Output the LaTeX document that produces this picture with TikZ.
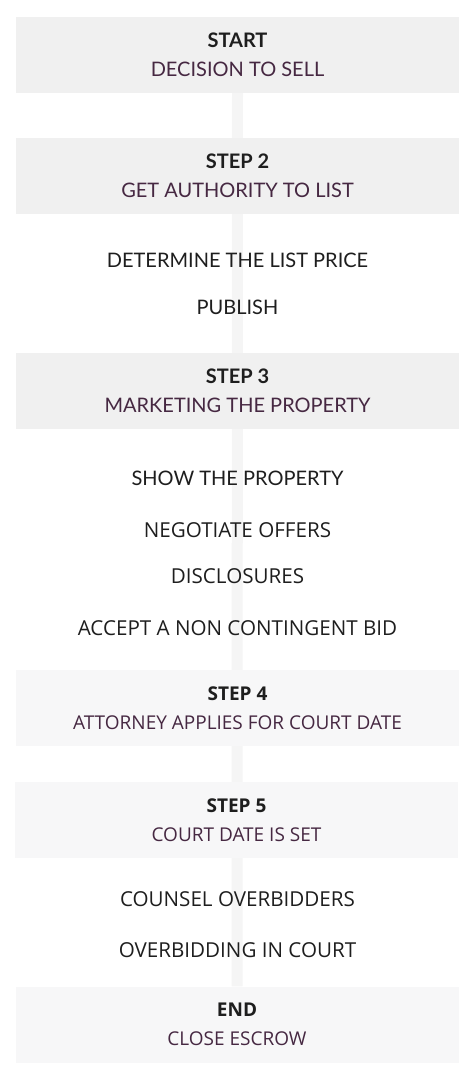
\documentclass[tikz,border=0pt]{standalone}
\usepackage{fontspec}
\setmainfont{Lato}
\newfontfamily\opensans{Open Sans}
\usetikzlibrary{backgrounds}
\definecolor{boxgray}{RGB}{240, 240, 240}
\definecolor{boxlight}{RGB}{247, 247, 248}
\definecolor{linegray}{RGB}{245, 245, 245}
\definecolor{darktext}{RGB}{30, 30, 30}
\definecolor{plum}{RGB}{70, 40, 66}

\tikzset{
    stepbox/.style={fill=boxgray, minimum width=443pt, minimum height=76pt, inner sep=0pt, align=center, text=darktext, font=\fontsize{20}{29}\selectfont},
    lowbox/.style={stepbox, fill=boxlight, font=\opensans\fontsize{19}{29}\selectfont},
    item/.style={anchor=base, text=darktext, font=\fontsize{20}{29}\selectfont},
    lowitem/.style={item, font=\opensans\fontsize{20.6}{29}\selectfont},
}

\begin{document}
\begin{tikzpicture}[x=1pt, y=-1pt]
    \useasboundingbox (0,0) rectangle (474,1080);
    \node[stepbox] (start) at (237.5,55) {{\bfseries START}\\{\color{plum}DECISION TO SELL}};
    \node[stepbox] (step2) at (237.5,175.5) {{\bfseries STEP 2}\\{\color{plum}GET AUTHORITY TO LIST}};
    \node[item] (price) at (237.5,267) {DETERMINE THE LIST PRICE};
    \node[item] (publish) at (237.5,314) {PUBLISH};
    \node[stepbox] (step3) at (237.5,391) {{\bfseries STEP 3}\\{\color{plum}MARKETING THE PROPERTY}};
    \node[item] (show) at (237.5,485) {SHOW THE PROPERTY};
    \node[lowitem] (offers) at (237.5,537) {NEGOTIATE OFFERS};
    \node[lowitem] (disclose) at (237.5,583) {DISCLOSURES};
    \node[lowitem] (bid) at (237.5,635) {ACCEPT A NON CONTINGENT BID};
    \node[lowbox] (step4) at (237.5,708) {{\bfseries STEP 4}\\{\color{plum}ATTORNEY APPLIES FOR COURT DATE}};
    \node[lowbox] (step5) at (236.5,820) {{\bfseries STEP 5}\\{\color{plum}COURT DATE IS SET}};
    \node[lowitem] (counsel) at (237.5,906) {COUNSEL OVERBIDDERS};
    \node[lowitem] (overbid) at (237.5,957) {OVERBIDDING IN COURT};
    \node[lowbox] (escrow) at (237,1024.5) {{\bfseries END}\\{\color{plum}CLOSE ESCROW}};
    % spine behind the steps
    \begin{scope}[on background layer]
        \draw[linegray, line width=11pt] (start.south) -- (escrow.north);
    \end{scope}
\end{tikzpicture}
\end{document}
